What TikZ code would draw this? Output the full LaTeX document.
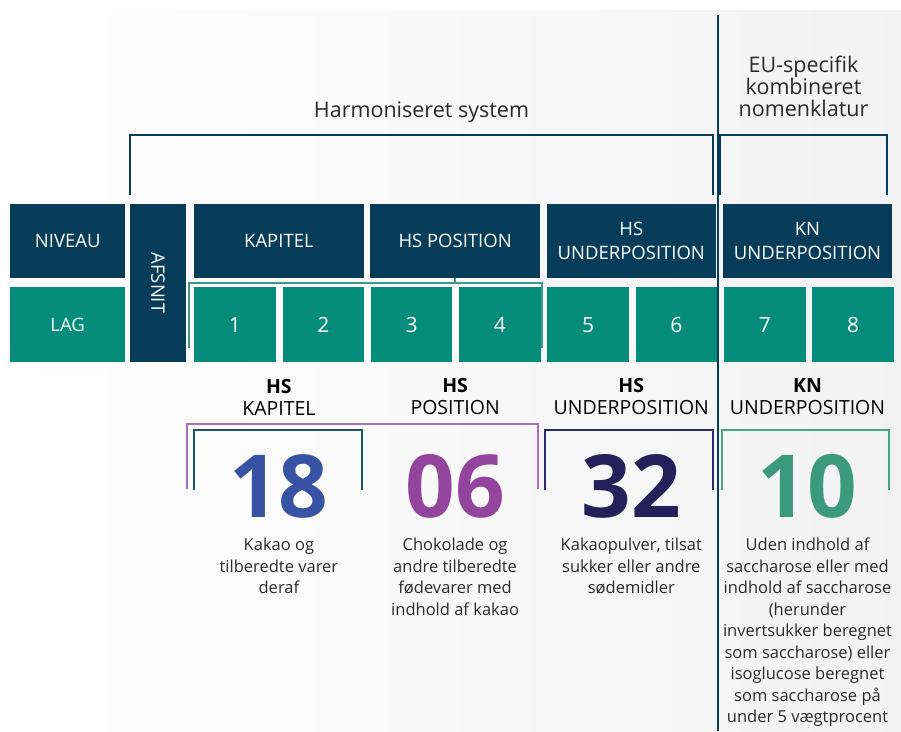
\documentclass[tikz,border=0pt]{standalone}
\usepackage{fontspec}
\setmainfont{Open Sans}
\usetikzlibrary{positioning}
\definecolor{niveaublue}{HTML}{083D5A}
\definecolor{lagteal}{HTML}{058C7B}
\definecolor{bracketteal}{HTML}{3A9A8A}
\definecolor{lilac}{HTML}{A86FBE}
\definecolor{kapslate}{HTML}{1F5667}
\definecolor{subnavy}{HTML}{2D2A6B}
\definecolor{kngreen}{HTML}{48A58A}
\definecolor{num18}{HTML}{3853A4}
\definecolor{num06}{HTML}{93449C}
\definecolor{num32}{HTML}{23205A}
\definecolor{num10}{HTML}{3A9A7B}
\definecolor{inktext}{HTML}{2A2A2A}

\begin{document}
\begin{tikzpicture}[x=1pt, y=-1pt,
			levelbox/.style={fill=niveaublue, text=white, inner sep=0pt, minimum width=169.4pt, minimum height=74pt, align=center, font=\fontsize{18.5}{24}\selectfont},
			digitbox/.style={fill=lagteal, text=white, inner sep=0pt, minimum width=81.5pt, minimum height=75pt, font=\fontsize{21}{22}\selectfont},
			headtitle/.style={text=inktext, align=center, inner sep=0pt, font=\fontsize{21.5}{22}\selectfont},
			sublabel/.style={text=black, align=center, inner sep=0pt, font=\fontsize{19.5}{22}\selectfont},
			bignum/.style={inner sep=0pt, font=\fontsize{87}{87}\selectfont\bfseries},
			desc/.style={text=inktext, align=center, anchor=north, inner sep=0pt, font=\fontsize{16.5}{21.5}\selectfont},
			bracket/.style={line width=2.2pt},
		]

			%Background
			\shade[left color=white, right color=black!5] (0,10) rectangle (901,731);
			\useasboundingbox (0,0) rectangle (901,731);

			%Nodes
			\node[levelbox, minimum width=115pt, anchor=north west]	(niveau)	at (10,204)	{NIVEAU};
			\node[digitbox, minimum width=115pt, anchor=north west, font=\fontsize{18.5}{22}\selectfont]	(lag)	at (10,287)	{LAG};
			\node[levelbox, rotate=-90, minimum width=158pt, minimum height=56pt]	(afsnit)	at (158,283)	{AFSNIT};
			\node[levelbox, anchor=north west]	(kapitel)	at (194,204)	{KAPITEL};
			\node[levelbox]	(hspos)[right=6.4pt of kapitel]	{HS POSITION};
			\node[levelbox]	(hsunder)[right=6.4pt of hspos]	{HS\\UNDERPOSITION};
			\node[levelbox]	(knunder)[right=6.4pt of hsunder]	{KN\\UNDERPOSITION};

			\node[digitbox, anchor=north west]	(d1)	at (194,287)	{1};
			\foreach \i [count=\j] in {2,...,8}
				\node[digitbox]	(d\i)[right=6.4pt of d\j]	{\i};

			\node[headtitle]	(hstitle)	at (421.5,112)	{Harmoniseret system};
			\node[headtitle]	(eutitle)	at (803.5,86)	{EU-specifik\\kombineret\\nomenklatur};

			\node[sublabel]	(lkap)	at (kapitel |- 0,397)	{\textbf{HS}\\KAPITEL};
			\node[sublabel]	(lpos)	at (hspos |- 0,397)	{\textbf{HS}\\POSITION};
			\node[sublabel]	(lhsu)	at (hsunder |- 0,397)	{\textbf{HS}\\UNDERPOSITION};
			\node[sublabel]	(lknu)	at (knunder |- 0,397)	{\textbf{KN}\\UNDERPOSITION};

			\node[bignum, text=num18]	(n18)	at (kapitel |- 0,486)	{18};
			\node[bignum, text=num06]	(n06)	at (hspos |- 0,486)	{06};
			\node[bignum, text=num32]	(n32)	at (hsunder |- 0,486)	{32};
			\node[bignum, text=num10]	(n10)	at (knunder |- 0,486)	{10};

			\node[desc]	(t18)	at (kapitel |- 0,538)	{Kakao og\\tilberedte varer\\deraf};
			\node[desc]	(t06)	at (hspos |- 0,538)	{Chokolade og\\andre tilberedte\\fødevarer med\\indhold af kakao};
			\node[desc]	(t32)	at (hsunder |- 0,538)	{Kakaopulver, tilsat\\sukker eller andre\\sødemidler};
			\node[desc]	(t10)	at (knunder |- 0,538)	{Uden indhold af\\saccharose eller med\\indhold af saccharose\\(herunder\\invertsukker beregnet\\som saccharose) eller\\isoglucose beregnet\\som saccharose på\\under 5 vægtprocent};

			%Lines
			\draw[bracket, niveaublue]	(130,195) |- (713,135) -- (713,195);
			\draw[bracket, niveaublue]	(720,195) |- (887,135) -- (887,195);
			\draw[niveaublue, line width=2.6pt]	(718,15) -- (718,731);

			\draw[bracket, bracketteal, line width=2pt]	(189,348) |- (542,283) -- (542,348);
			\draw[bracketteal, line width=2pt]	(hspos.south) -- (hspos.south |- 0,283);

			\draw[bracket, lilac]	(187,489) |- (538,424) -- (538,489);
			\draw[bracket, kapslate]	(194,490) |- (362,430) -- (362,490);
			\draw[bracket, subnavy]	(545,490) |- (713,430) -- (713,490);
			\draw[bracket, kngreen]	(722,490) |- (889,430) -- (889,490);

		\end{tikzpicture}
\end{document}
